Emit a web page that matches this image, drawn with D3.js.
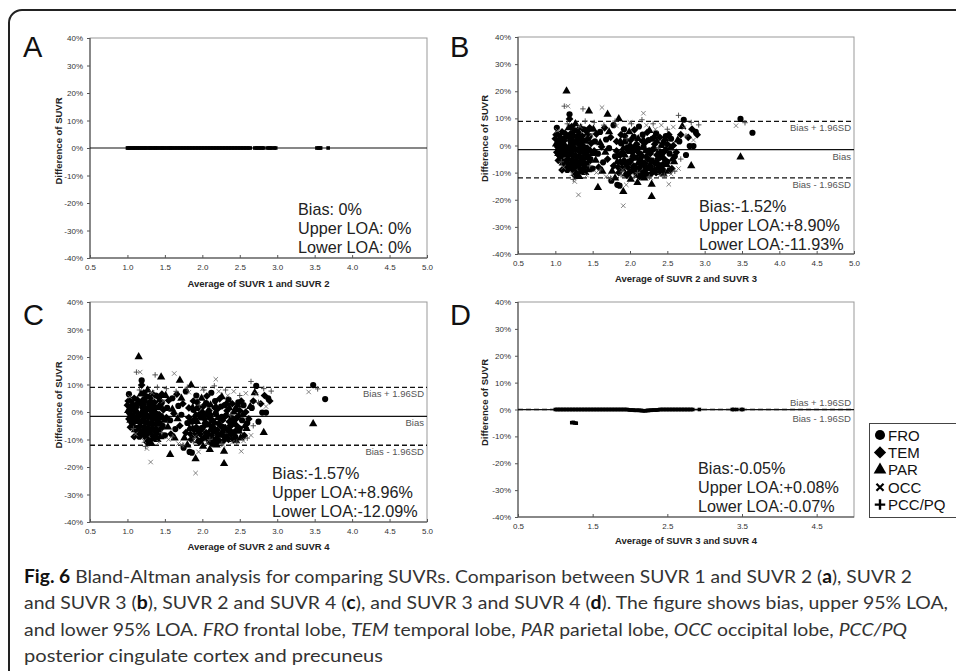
<!DOCTYPE html>
<html>
<head>
<meta charset="utf-8">
<script src="https://cdn.jsdelivr.net/npm/d3@7"></script>
<style>
  body { margin: 0; background: #fff; }
  svg { display: block; }
</style>
</head>
<body>
<svg id="fig" width="956" height="671"></svg>
<script>
// ---- data ----
const lobes = ["FRO", "TEM", "PAR", "OCC", "PCC/PQ"];

// panels B and C: [average SUVR, difference %]
const froBC = [[1.02,6.5],[1.05,4.2],[1.08,1.0],[1.10,-2.5],[1.13,-5.8],[1.17,3.3],[1.19,11.5],[1.20,-8.0],[1.22,0.5],[1.24,-3.8],[1.26,5.6],[1.28,-10.2],[1.30,-1.5],[1.33,2.8],[1.35,-6.5],[1.38,6.0],[1.40,-0.8],[1.43,-4.2],[1.46,3.5],[1.50,-8.5],[1.53,1.5],[1.57,-3.0],[1.60,5.0],[1.64,-6.2],[1.68,2.2],[1.72,-1.0],[1.75,-13.0],[1.78,7.5],[1.80,-4.0],[1.83,-14.5],[1.86,-14.8],[1.88,0.8],[1.92,6.0],[1.95,-6.8],[1.98,-2.0],[2.02,-9.5],[2.05,3.2],[2.08,-4.5],[2.12,7.0],[2.15,-7.2],[2.18,-0.5],[2.22,-10.5],[2.25,2.0],[2.28,-5.5],[2.32,-1.2],[2.35,4.5],[2.38,-8.0],[2.42,-3.5],[2.45,1.0],[2.50,-6.0],[2.55,2.5],[2.60,-4.0],[2.66,1.5],[2.72,9.5],[2.75,-3.5],[2.80,-0.2],[2.85,-0.2],[2.88,5.0],[3.48,9.8],[3.64,4.7],
  [1.04,-1.5],[1.07,-4.5],[1.11,2.5],[1.15,-1.0],[1.16,-9.0],[1.20,1.8],[1.23,-1.8],[1.25,-6.5],[1.29,3.0],[1.32,-4.0],[1.35,-9.5],[1.37,1.8],[1.41,-7.0],[1.44,2.5],[1.47,-5.0],[1.86,-3.5],[1.90,-8.5],[1.94,1.5],[2.00,-5.8],[2.04,-1.0],[2.09,-10.8],[2.13,-3.0],[2.17,4.0],[2.21,-8.2],[2.26,-1.8],[2.30,2.5],[2.34,-6.5],[2.39,-2.2],[2.44,-9.0],[2.48,3.5],[2.53,-3.0]];
const temBC = [[1.00,2.5],[1.03,-0.5],[1.06,-4.0],[1.09,5.0],[1.12,1.8],[1.14,-7.5],[1.18,-1.0],[1.19,9.8],[1.21,4.5],[1.23,-5.5],[1.25,-9.5],[1.27,1.2],[1.29,-4.5],[1.31,4.0],[1.34,-8.8],[1.36,0.0],[1.39,-2.8],[1.42,5.2],[1.45,-6.0],[1.48,0.8],[1.52,-2.0],[1.55,4.2],[1.58,-8.0],[1.62,-0.5],[1.66,6.5],[1.70,-5.0],[1.74,3.0],[1.78,-7.5],[1.82,1.5],[1.85,-10.0],[1.90,-2.5],[1.93,3.5],[1.97,-8.0],[2.00,0.0],[2.03,-5.0],[2.06,5.8],[2.10,-2.2],[2.13,-11.5],[2.17,1.5],[2.20,-6.5],[2.23,4.8],[2.27,-3.0],[2.30,-9.0],[2.33,0.5],[2.37,-5.0],[2.40,3.0],[2.44,-7.0],[2.48,-1.5],[2.52,4.0],[2.56,-8.5],[2.58,0.0],[2.62,-2.5],[2.68,4.0],[2.78,3.0],[2.83,6.0],[2.90,4.0],
  [1.02,-2.5],[1.06,1.0],[1.09,-9.0],[1.13,4.5],[1.17,-5.0],[1.20,-3.0],[1.22,7.0],[1.26,-11.0],[1.28,-6.0],[1.31,0.5],[1.33,-2.5],[1.36,3.5],[1.39,-8.0],[1.43,-1.0],[1.46,6.5],[1.84,-8.0],[1.88,4.0],[1.92,-5.5],[1.96,-11.0],[2.01,2.0],[2.05,-7.5],[2.09,0.5],[2.12,-8.5],[2.16,-3.8],[2.19,-9.5],[2.24,-5.0],[2.28,-10.5],[2.32,3.0],[2.36,-3.5],[2.41,-7.5],[2.46,-5.0],[2.50,0.5],
  [1.01,4.0],[1.04,-5.5],[1.10,0.5],[1.14,-2.0],[1.18,-7.0],[1.21,2.8],[1.24,-0.5],[1.27,-8.0],[1.30,2.0],[1.34,-0.8],[1.38,-6.0],[1.42,-2.5],[1.82,-2.0],[1.89,-6.5],[1.95,-1.0],[1.99,-10.0],[2.03,-2.5],[2.07,-9.5],[2.11,-1.0],[2.15,-6.0],[2.20,1.0],[2.25,-8.0],[2.29,-2.0],[2.35,-10.0],[2.40,-4.5],[2.45,-2.5]];
const parBC = [[1.01,0.5],[1.04,-3.0],[1.07,3.0],[1.10,-6.5],[1.15,20.1],[1.13,0.0],[1.16,-3.5],[1.18,6.5],[1.21,-6.5],[1.23,2.0],[1.26,-1.5],[1.27,8.0],[1.30,-7.5],[1.32,-11.5],[1.34,6.5],[1.37,-4.5],[1.41,1.5],[1.45,12.7],[1.44,-9.0],[1.47,-2.0],[1.51,6.0],[1.54,-5.5],[1.57,-15.5],[1.60,1.0],[1.63,-9.5],[1.67,-2.5],[1.70,11.5],[1.72,5.0],[1.76,-9.5],[1.80,-12.0],[1.85,9.8],[1.87,-6.0],[1.91,-17.0],[1.91,-1.0],[1.94,-10.5],[1.99,5.0],[2.01,-12.5],[2.04,-3.5],[2.08,-8.0],[2.10,-13.7],[2.11,2.5],[2.14,-5.0],[2.19,-12.0],[2.21,-2.0],[2.24,-8.5],[2.29,-14.3],[2.29,-18.8],[2.26,5.5],[2.31,-6.0],[2.36,1.5],[2.39,-10.0],[2.43,-4.0],[2.47,2.5],[2.51,-9.5],[2.54,-1.0],[2.59,-6.0],[2.64,2.0],[2.70,7.0],[2.82,-7.5],[3.48,-4.3],
  [1.05,2.0],[1.08,-1.0],[1.11,-3.5],[1.14,3.5],[1.19,0.0],[1.22,-8.5],[1.24,4.0],[1.27,-3.5],[1.30,5.5],[1.33,-5.8],[1.35,1.0],[1.38,-1.5],[1.40,-10.0],[1.43,4.5],[1.49,-3.0],[1.83,-6.0],[1.87,1.5],[1.93,-3.5],[1.97,-6.5],[2.03,-9.0],[2.07,0.0],[2.11,-6.5],[2.15,-10.5],[2.18,2.0],[2.22,-4.0],[2.27,-7.0],[2.33,-9.0],[2.37,-6.5],[2.42,0.0],[2.45,-10.5],[2.49,-7.0],[2.57,-5.0]];
const occBC = [[1.03,5.5],[1.11,-8.0],[1.17,14.5],[1.22,-10.5],[1.26,-13.3],[1.31,-18.2],[1.33,7.0],[1.42,-11.0],[1.48,4.0],[1.55,-10.0],[1.625,14.0],[1.68,-11.5],[1.73,-12.0],[1.82,7.2],[1.90,-9.0],[1.91,-22.2],[1.95,-14.5],[2.00,8.5],[2.06,-11.0],[2.18,11.9],[2.22,7.5],[2.28,-12.0],[2.34,6.0],[2.40,-11.0],[2.42,7.5],[2.52,-14.3],[2.55,-10.5],[2.58,6.8],[2.65,-8.5],[2.72,6.5],[2.85,2.0],[3.42,7.3]];
const pccBC = [[1.12,14.5],[1.08,-6.0],[1.16,8.0],[1.24,-12.5],[1.37,13.5],[1.40,9.0],[1.46,-7.5],[1.52,8.5],[1.60,-9.0],[1.65,7.5],[1.74,-12.0],[1.80,9.0],[1.88,-10.8],[1.96,2.5],[2.02,8.0],[2.10,-10.0],[2.16,9.5],[2.26,-11.5],[2.31,8.0],[2.38,-1.0],[2.46,-11.0],[2.50,6.0],[2.60,-9.5],[2.65,11.1],[2.68,-5.0],[2.75,3.5],[2.82,8.5],[2.92,7.6],[3.54,8.4]];

// panel A: averages; every difference in this panel is 0
const avgA = [1.00,1.01,1.03,1.04,1.06,1.08,1.09,1.11,1.13,1.14,1.16,1.18,1.19,1.21,1.23,1.24,1.26,1.28,1.30,1.31,1.33,1.35,1.37,1.38,1.40,1.42,1.44,1.46,1.47,1.49,1.51,1.53,1.55,1.57,1.58,1.60,1.62,1.64,1.66,1.68,1.70,1.72,1.74,1.76,1.78,1.80,1.82,1.84,1.86,1.88,1.90,1.92,1.94,1.96,1.98,2.00,2.02,2.04,2.06,2.08,2.10,2.12,2.14,2.16,2.18,2.20,2.22,2.24,2.26,2.28,2.30,2.32,2.34,2.36,2.38,2.40,2.42,2.44,2.46,2.48,2.50,2.52,2.54,2.56,2.58,2.60,2.62,2.64,2.70,2.72,2.74,2.76,2.78,2.80,2.82,2.87,2.89,2.91,2.93,2.96,2.98,3.53,3.55,3.57,3.58,3.68];
const diffA = 0;

// panel D: [average SUVR, difference %]
const pointsD = [[1.00,0],[1.02,0],[1.04,0],[1.06,0],[1.08,0],[1.10,0],[1.12,0],[1.14,0],[1.16,0],[1.18,0],[1.20,0],[1.22,0],[1.24,0],[1.26,0],[1.28,0],[1.30,0],[1.32,0],[1.34,0],[1.36,0],[1.38,0],[1.40,0],[1.42,0],[1.44,0],[1.46,0],[1.48,0],[1.50,0],[1.52,0],[1.54,0],[1.56,0],[1.58,0],[1.60,0],[1.62,0],[1.64,0],[1.66,0],[1.68,0],[1.70,0],[1.72,0],[1.74,0],[1.76,0],[1.78,0],[1.80,0],[1.82,0],[1.84,0],[1.86,0],[1.88,0],[1.90,0],[1.92,0],[1.94,0],[1.96,0],[1.98,-0.1],[2.00,-0.2],[2.02,-0.2],[2.04,-0.2],[2.06,-0.3],[2.08,-0.3],[2.10,-0.3],[2.12,-0.3],[2.14,-0.4],[2.16,-0.4],[2.18,-0.5],[2.20,-0.5],[2.22,-0.4],[2.24,-0.4],[2.26,-0.3],[2.28,-0.3],[2.30,-0.2],[2.32,-0.2],[2.34,-0.2],[2.36,-0.2],[2.38,-0.1],[2.40,0],[2.42,0],[2.44,0],[2.46,0],[2.48,0],[2.50,0],[2.52,0],[2.54,0],[2.56,0],[2.58,0],[2.60,0],[2.62,0],[2.64,0],[2.66,0],[2.68,0],[2.70,0],[2.72,0],[2.74,0],[2.76,0],[2.78,0],[2.80,0],[2.82,0],[2.84,0],[2.93,0],[3.37,0],[3.39,0],[3.43,0],[3.49,0],[3.51,0],[1.22,-4.9],[1.24,-4.8],[1.26,-5.0],[1.28,-5.1]];

const panelLetters = ["A", "B", "C", "D"];
const xTitles = ["Average of SUVR 1 and SUVR 2", "Average of SUVR 2 and SUVR 3", "Average of SUVR 2 and SUVR 4", "Average of SUVR 3 and SUVR 4"];
const biasVals = [0, -1.52, -1.57, -0.05];
const upperVals = [0, 8.90, 8.96, 0.08];
const lowerVals = [0, -11.93, -12.09, -0.07];
const statLines = [
  ["Bias: 0%", "Upper LOA: 0%", "Lower LOA: 0%"],
  ["Bias:-1.52%", "Upper LOA:+8.90%", "Lower LOA:-11.93%"],
  ["Bias:-1.57%", "Upper LOA:+8.96%", "Lower LOA:-12.09%"],
  ["Bias:-0.05%", "Upper LOA:+0.08%", "Lower LOA:-0.07%"]
];
const yTicks = [-40, -30, -20, -10, 0, 10, 20, 30, 40];
const xTicks = [0.5, 1.0, 1.5, 2.0, 2.5, 3.0, 3.5, 4.0, 4.5, 5.0];
const xTicksD = [0.5, 1.5, 2.5, 3.5, 4.5];

const captionLines = [
  [["Fig. 6", "b"], [" Bland-Altman analysis for comparing SUVRs. Comparison between SUVR 1 and SUVR 2 ("], ["a", "b"], ["), SUVR 2"]],
  [["and SUVR 3 ("], ["b", "b"], ["), SUVR 2 and SUVR 4 ("], ["c", "b"], ["), and SUVR 3 and SUVR 4 ("], ["d", "b"], ["). The figure shows bias, upper 95% LOA,"]],
  [["and lower 95% LOA. "], ["FRO", "i"], [" frontal lobe, "], ["TEM", "i"], [" temporal lobe, "], ["PAR", "i"], [" parietal lobe, "], ["OCC", "i"], [" occipital lobe, "], ["PCC/PQ", "i"]],
  [["posterior cingulate cortex and precuneus"]]
];

// ---- layout ----
const svg = d3.select("#fig");
const sans = "'Liberation Sans', Arial, sans-serif";

// outer rounded frame (runs off the right and bottom edges)
svg.append("rect")
  .attr("x", 9).attr("y", 10).attr("width", 1000).attr("height", 800)
  .attr("rx", 13)
  .attr("fill", "none").attr("stroke", "#222").attr("stroke-width", 2);

const boxes = [
  { x0: 90, x1: 427, y0: 38, y1: 258, lx: 23, ly: 57, ytx: 58, xty: 283, stx: 298, sty: 215 },
  { x0: 518, x1: 854, y0: 37, y1: 254, lx: 450, ly: 57, ytx: 484, xty: 278, stx: 699, sty: 212 },
  { x0: 90, x1: 427, y0: 302, y1: 522, lx: 23, ly: 325, ytx: 58, xty: 546, stx: 272, sty: 479 },
  { x0: 518, x1: 854, y0: 302, y1: 517, lx: 450, ly: 325, ytx: 484, xty: 540, stx: 698, sty: 474 }
];

// symbols
const symTimes = { draw(ctx, size) { const r = Math.sqrt(size) / 2; ctx.moveTo(-r, -r); ctx.lineTo(r, r); ctx.moveTo(r, -r); ctx.lineTo(-r, r); } };
const symPlus = { draw(ctx, size) { const r = Math.sqrt(size) / 2; ctx.moveTo(-r, 0); ctx.lineTo(r, 0); ctx.moveTo(0, -r); ctx.lineTo(0, r); } };
const symDiamond = { draw(ctx, size) { const r = Math.sqrt(size / 2); ctx.moveTo(0, -r); ctx.lineTo(r, 0); ctx.lineTo(0, r); ctx.lineTo(-r, 0); ctx.closePath(); } };
const lobeStyle = {
  "FRO": { type: d3.symbolCircle, size: 30, fill: "#000" },
  "TEM": { type: symDiamond, size: 30, fill: "#000" },
  "PAR": { type: d3.symbolTriangle, size: 30, fill: "#000" },
  "OCC": { type: symTimes, size: 20, stroke: "#666", sw: 0.8 },
  "PCC/PQ": { type: symPlus, size: 30, stroke: "#444", sw: 0.9 }
};

function drawPoints(g, pts, lobe, x, y) {
  const st = lobeStyle[lobe];
  g.selectAll(null).data(pts).join("path")
    .attr("transform", d => `translate(${x(d[0])},${y(d[1])})`)
    .attr("d", d3.symbol().type(st.type).size(st.size))
    .attr("fill", st.fill || "none")
    .attr("stroke", st.stroke || "none")
    .attr("stroke-width", st.sw || 0);
}

// the near-zero panels: markers overlap into a solid band
function drawBand(g, pts, x, y) {
  g.selectAll(null).data(pts).join("path")
    .attr("transform", d => `translate(${x(d[0])},${y(d[1])})`)
    .attr("d", d3.symbol().type(d3.symbolSquare).size(13))
    .attr("fill", "#000");
}

boxes.forEach((b, i) => {
  const x = d3.scaleLinear().domain([0.5, 5.0]).range([b.x0, b.x1]);
  const y = d3.scaleLinear().domain([-40, 40]).range([b.y1, b.y0]);
  const g = svg.append("g");

  // panel letter
  g.append("text").attr("x", b.lx).attr("y", b.ly)
    .attr("font-family", sans).attr("font-size", 29).attr("fill", "#111")
    .text(panelLetters[i]);

  // plot frame
  g.append("rect").attr("x", b.x0).attr("y", b.y0)
    .attr("width", b.x1 - b.x0).attr("height", b.y1 - b.y0)
    .attr("fill", "none").attr("stroke", "#999").attr("stroke-width", 1);
  g.append("path")
    .attr("d", `M${b.x0},${b.y0}V${b.y1}H${b.x1}`)
    .attr("fill", "none").attr("stroke", "#444").attr("stroke-width", 1);

  // axes
  g.append("g").attr("transform", `translate(${b.x0},0)`)
    .call(d3.axisLeft(y).tickValues(yTicks).tickFormat(d => d + "%").tickSize(3).tickPadding(4))
    .call(a => a.select(".domain").remove())
    .call(a => a.selectAll("line").attr("stroke", "#555"))
    .call(a => a.selectAll("text").attr("font-family", sans).attr("font-size", 8).attr("fill", "#333"));
  g.append("g").attr("transform", `translate(0,${b.y1})`)
    .call(d3.axisBottom(x).tickValues(i === 3 ? xTicksD : xTicks).tickFormat(d3.format(".1f")).tickSizeInner(-3).tickSizeOuter(0).tickPadding(6))
    .call(a => a.select(".domain").remove())
    .call(a => a.selectAll("line").attr("stroke", "#555"))
    .call(a => a.selectAll("text").attr("font-family", sans).attr("font-size", 8).attr("fill", "#333"));

  // axis titles
  g.append("text").attr("x", (b.x0 + b.x1) / 2).attr("y", b.xty + 3.5)
    .attr("text-anchor", "middle").attr("font-family", sans).attr("font-weight", "bold")
    .attr("font-size", 9.5).attr("fill", "#222").text(xTitles[i]);
  g.append("text")
    .attr("transform", `translate(${b.ytx + 3.5},${(b.y0 + b.y1) / 2 - 7}) rotate(-90)`)
    .attr("text-anchor", "middle").attr("font-family", sans).attr("font-weight", "bold")
    .attr("font-size", 9.5).attr("fill", "#222").text("Difference of SUVR");

  // bias and limits of agreement
  if (i > 0) {
    [upperVals[i], lowerVals[i]].forEach(v => {
      g.append("line").attr("x1", b.x0).attr("x2", b.x1).attr("y1", y(v)).attr("y2", y(v))
        .attr("stroke", "#111").attr("stroke-width", 1.3).attr("stroke-dasharray", "5,3");
    });
  }
  g.append("line").attr("x1", b.x0).attr("x2", b.x1).attr("y1", y(biasVals[i])).attr("y2", y(biasVals[i]))
    .attr("stroke", "#111").attr("stroke-width", 1.2);

  const lab = (txt, yy) => g.append("text").attr("x", b.x1 - 3).attr("y", yy)
    .attr("text-anchor", "end").attr("font-family", sans).attr("font-size", 9.5)
    .attr("fill", "#555").text(txt);
  if (i === 1 || i === 2) {
    lab("Bias + 1.96SD", y(upperVals[i]) + 10);
    lab("Bias", y(biasVals[i]) + 10);
    lab("Bias - 1.96SD", y(lowerVals[i]) + 10);
  } else if (i === 3) {
    lab("Bias + 1.96SD", y(upperVals[i]) - 3);
    lab("Bias - 1.96SD", y(lowerVals[i]) + 12);
  }

  // points
  const pg = g.append("g");
  if (i === 0) {
    drawBand(pg, avgA.map(a => [a, diffA]), x, y);
  } else if (i === 3) {
    drawBand(pg, pointsD, x, y);
  } else {
    drawPoints(pg, froBC, "FRO", x, y);
    drawPoints(pg, temBC, "TEM", x, y);
    drawPoints(pg, parBC, "PAR", x, y);
    drawPoints(pg, occBC, "OCC", x, y);
    drawPoints(pg, pccBC, "PCC/PQ", x, y);
  }

  // statistics text
  statLines[i].forEach((t, k) => {
    g.append("text").attr("x", b.stx).attr("y", b.sty + k * 18.8)
      .attr("font-family", sans).attr("font-size", 16.2).attr("fill", "#222").text(t);
  });
});

// legend
const leg = svg.append("g");
leg.append("rect").attr("x", 869.5).attr("y", 423.5).attr("width", 120).attr("height", 94)
  .attr("fill", "#fff").attr("stroke", "#444").attr("stroke-width", 1);
const legStyle = {
  "FRO": { type: d3.symbolCircle, size: 80, fill: "#000" },
  "TEM": { type: symDiamond, size: 75, fill: "#000" },
  "PAR": { type: d3.symbolTriangle, size: 70, fill: "#000" },
  "OCC": { type: symTimes, size: 50, stroke: "#000", sw: 2.2 },
  "PCC/PQ": { type: symPlus, size: 110, stroke: "#000", sw: 2.4 }
};
lobes.forEach((l, k) => {
  const yy = 435 + k * 17.4;
  const st = legStyle[l];
  leg.append("path").attr("transform", `translate(880,${yy})`)
    .attr("d", d3.symbol().type(st.type).size(st.size)())
    .attr("fill", st.fill || "none").attr("stroke", st.stroke || "none").attr("stroke-width", st.sw || 0);
  leg.append("text").attr("x", 888).attr("y", yy + 5.5).attr("font-family", sans)
    .attr("font-size", 15).attr("fill", "#111").text(l);
});

// caption
const capBase = [583, 609, 636, 662];
const capWidth = [888, 924, 883, 359];
captionLines.forEach((segs, k) => {
  const t = svg.append("text").attr("x", 24).attr("y", capBase[k])
    .attr("font-family", "Lato, 'Open Sans', sans-serif").attr("font-size", 18).attr("fill", "#333")
    .attr("textLength", capWidth[k]).attr("lengthAdjust", "spacingAndGlyphs");
  segs.forEach(s => {
    const sp = t.append("tspan").text(s[0]);
    if (s[1] === "b") sp.attr("font-weight", "bold").attr("fill", "#111");
    if (s[1] === "i") sp.attr("font-style", "italic");
  });
});
</script>
</body>
</html>
